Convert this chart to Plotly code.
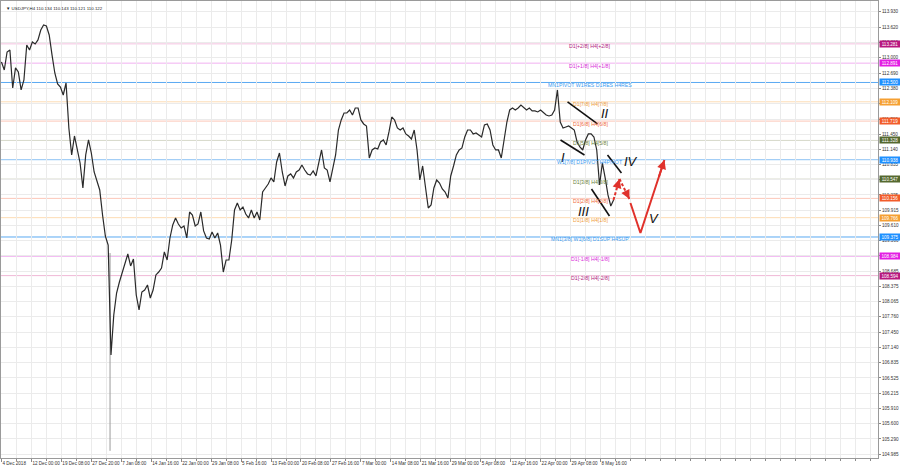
import plotly.graph_objects as go

# ---------------- data ----------------
symbol_title = "▼ USDJPY,H4 110.134 110.143 110.121 110.122"
bar_step = 3  # H4 bars between consecutive samples of the close series

close = [
    112.915, 112.753, 113.117, 113.158, 112.389, 112.794, 112.713, 112.349, 112.551, 113.259,
    113.158, 113.319, 113.279, 113.360, 113.562, 113.663, 113.643, 113.461, 113.057, 112.692,
    112.470, 112.409, 112.247, 112.490, 111.580, 111.034, 111.418, 111.175, 110.872, 110.366,
    111.034, 111.337, 111.074, 110.690, 110.528, 110.326, 109.820, 109.395, 109.213, 106.988,
    107.797, 108.242, 108.465, 108.667, 108.870, 109.031, 108.789, 108.930, 108.202, 107.899,
    108.263, 108.303, 108.404, 108.141, 108.303, 108.607, 108.667, 108.748, 109.072, 108.910,
    109.355, 109.618, 109.760, 109.638, 109.557, 109.598, 109.355, 109.881, 109.820, 109.598,
    109.638, 109.881, 109.497, 109.355, 109.335, 109.476, 109.355, 109.456, 109.213, 108.667,
    108.910, 108.910, 109.315, 109.921, 110.063, 109.921, 109.982, 109.840, 109.760, 109.921,
    109.760, 109.881, 109.719, 110.285, 110.366, 110.447, 110.569, 110.488, 110.892, 111.074,
    110.690, 110.407, 110.609, 110.650, 110.569, 110.690, 110.730, 110.832, 110.730, 110.650,
    110.629, 110.710, 110.609, 110.892, 111.135, 110.771, 110.730, 110.488, 110.791, 111.034,
    111.539, 111.742, 111.883, 111.883, 111.944, 111.843, 111.984, 111.984, 111.742, 111.661,
    111.620, 110.973, 111.135, 111.175, 111.155, 111.297, 111.337, 111.236, 111.499, 111.802,
    111.742, 111.580, 111.539, 111.580, 111.459, 111.418, 111.357, 111.539, 111.135, 110.528,
    110.811, 110.326, 109.962, 110.022, 110.366, 110.528, 110.467, 110.346, 110.285, 110.164,
    110.609, 110.811, 111.034, 111.135, 111.175, 111.398, 111.539, 111.539, 111.459, 111.479,
    111.438, 111.398, 111.641, 111.661, 111.539, 111.236, 111.135, 111.135, 110.973, 111.378,
    111.701, 111.944, 111.984, 111.944, 111.984, 112.045, 111.984, 111.944, 111.984, 111.924,
    111.924, 111.904, 111.944, 111.883, 111.843, 111.823, 111.843, 111.944, 112.349, 111.701,
    111.580, 111.600, 111.620, 111.580, 111.539, 111.297, 111.196, 111.135, 111.337, 111.459,
    111.459, 111.398, 111.135, 110.427, 110.872, 110.569, 110.225, 110.002, 110.124,
]

# flash-crash candle (3 Jan 2019): bar index, high and low of its wick
crash_bar = 116
crash_high = 109.05
crash_low = 105.05

date_labels = [
    "4 Dec 2018", "12 Dec 00:00", "19 Dec 08:00", "27 Dec 20:00", "7 Jan 08:00",
    "14 Jan 16:00", "22 Jan 00:00", "29 Jan 08:00", "5 Feb 16:00", "13 Feb 00:00",
    "20 Feb 08:00", "27 Feb 16:00", "7 Mar 00:00", "14 Mar 08:00", "21 Mar 16:00",
    "29 Mar 00:00", "5 Apr 08:00", "12 Apr 16:00", "22 Apr 00:00", "29 Apr 08:00",
    "8 May 16:00",
]
bars_per_label = 32

price_tick_labels = [
    "113.930", "113.620", "113.310", "113.000", "112.690", "112.380", "112.070", "111.760",
    "111.450", "111.140", "110.835", "110.530", "110.225", "109.915", "109.610", "109.300",
    "108.995", "108.685", "108.375", "108.065", "107.760", "107.450", "107.140", "106.835",
    "106.525", "106.215", "105.910", "105.600", "105.290", "104.985",
]

levels = [113.281, 112.891, 112.500, 112.109, 111.719, 111.328, 110.938,
          110.547, 110.156, 109.766, 109.375, 108.984, 108.594]
level_names = [
    "D1[+2/8] H4[+2/8]", "D1[+1/8] H4[+1/8]", "MN1PIVOT W1RES D1RES H4RES",
    "D1[7/8] H4[7/8]", "D1[6/8] H4[6/8]", "D1[5/8] H4[5/8]", "W1[7/8] D1PIVOT H4PIVOT",
    "D1[3/8] H4[3/8]", "D1[2/8] H4[2/8]", "D1[1/8] H4[1/8]", "MN1[3/8] W1[6/8] D1SUP H4SUP",
    "D1[-1/8] H4[-1/8]", "D1[-2/8] H4[-2/8]",
]
level_line_colors = ["#f4c2e0", "#f1b0f1", "#5aa9f2", "#fddcb4", "#fcc6b8", "#d6d9c9", "#8cc2f4",
                     "#d6d9c9", "#fcc6b8", "#fddcb4", "#5aa9f2", "#f1b0f1", "#f0b8d6"]
level_text_colors = ["#b01c80", "#d82ad8", "#3c9cf0", "#f0a040", "#f06a3a", "#6b7f3a", "#3c9cf0",
                     "#6b7f3a", "#f06a3a", "#f0a040", "#3c9cf0", "#d82ad8", "#b01c80"]
level_tag_colors = ["#b8197f", "#e31ee3", "#1e90ff", "#f5a033", "#f25c2a", "#55692f", "#1e90ff",
                    "#55692f", "#f25c2a", "#f5a033", "#1e90ff", "#e31ee3", "#b8197f"]
level_label_bar = 629

# hand-drawn wave analysis (bar index, price)
channel_bar_start = [604.8, 597.3, 647.5, 630.4]
channel_price_start = [112.106, 111.337, 111.034, 110.346]
channel_bar_end = [636.8, 622.9, 662.4, 649.6]
channel_price_end = [111.661, 111.034, 110.670, 109.800]

wave_names = ["I", "II", "III", "IV", "V"]
wave_bar = [599.5, 644.3, 621.9, 673.0, 697.6]
wave_price = [110.99, 111.88, 109.89, 110.91, 109.74]

dashed_path_bar = [653.9, 660.3, 670.9]
dashed_path_price = [110.124, 110.548, 110.144]
solid_path_bar = [672.0, 682.7, 708.3]
solid_path_price = [110.063, 109.456, 110.933]

y_min, y_max = 104.905, 114.148
x_min, x_max = -0.5, 936.5

# ---------------- figure ----------------
fig = go.Figure()

for lv, col in zip(levels, level_line_colors):
    fig.add_hline(y=lv, line=dict(color=col, width=1), layer="below")

bars = [i * bar_step for i in range(len(close))]
fig.add_trace(go.Scatter(x=[crash_bar, crash_bar], y=[crash_high, crash_low], mode="lines",
                         line=dict(color="#9a9a9a", width=1), hoverinfo="skip"))
fig.add_trace(go.Scatter(x=bars, y=close, mode="lines",
                         line=dict(color="#2a2a2a", width=1.2), hoverinfo="skip"))

for b0, p0, b1, p1 in zip(channel_bar_start, channel_price_start, channel_bar_end, channel_price_end):
    fig.add_trace(go.Scatter(x=[b0, b1], y=[p0, p1], mode="lines",
                             line=dict(color="#111111", width=1.6), hoverinfo="skip"))

red = "#e0312b"
fig.add_trace(go.Scatter(x=dashed_path_bar[:2], y=dashed_path_price[:2], mode="lines",
                         line=dict(color=red, width=2, dash="3px,2px"), hoverinfo="skip"))
fig.add_trace(go.Scatter(x=dashed_path_bar[1:], y=dashed_path_price[1:], mode="lines",
                         line=dict(color=red, width=2, dash="3px,2px"), hoverinfo="skip"))
fig.add_trace(go.Scatter(x=solid_path_bar, y=solid_path_price, mode="lines",
                         line=dict(color=red, width=2), hoverinfo="skip"))

def arrow_head(bx, py, i_from, i_to):
    fig.add_annotation(x=bx[i_to], y=py[i_to],
                       ax=bx[i_from] + 0.75 * (bx[i_to] - bx[i_from]),
                       ay=py[i_from] + 0.75 * (py[i_to] - py[i_from]),
                       xref="x", yref="y", axref="x", ayref="y", text="",
                       showarrow=True, arrowhead=2, arrowsize=0.9, arrowwidth=2, arrowcolor=red)

arrow_head(dashed_path_bar, dashed_path_price, 0, 1)
arrow_head(dashed_path_bar, dashed_path_price, 1, 2)
arrow_head(solid_path_bar, solid_path_price, 1, 2)

for name, bx, py in zip(wave_names, wave_bar, wave_price):
    fig.add_annotation(x=bx, y=py, text=f"<i>{name}</i>", showarrow=False,
                       font=dict(family="Liberation Sans", size=13, color="#111111"))

for lv, name, tcol, tagcol in zip(levels, level_names, level_text_colors, level_tag_colors):
    fig.add_annotation(x=level_label_bar, y=lv, text=name, showarrow=False, yanchor="middle",
                       yshift=-2.5, font=dict(family="Liberation Sans", size=5.2, color=tcol))
    fig.add_annotation(xref="paper", x=1, y=lv, xanchor="left", xshift=1, text=f"{lv:.3f}",
                       showarrow=False, bgcolor=tagcol, width=20, height=6, borderpad=0,
                       font=dict(family="Liberation Sans", size=4.6, color="white"))

fig.add_annotation(xref="paper", yref="paper", x=0, y=1, xanchor="left", yanchor="top",
                   xshift=3, yshift=-3, text=symbol_title, showarrow=False,
                   font=dict(family="Liberation Sans", size=4.4, color="#222222"))

fig.update_layout(
    width=900, height=470,
    margin=dict(l=1, r=22, t=1, b=12, autoexpand=False),
    paper_bgcolor="white", plot_bgcolor="white",
    showlegend=False,
    xaxis=dict(
        range=[x_min, x_max],
        tickvals=[k * bars_per_label for k in range(len(date_labels))],
        ticktext=date_labels,
        tickangle=0,
        ticklabelposition="outside right",
        ticks="outside", ticklen=3, tickcolor="#8a8a8a",
        tickfont=dict(family="Liberation Sans", size=4.6, color="#333333"),
        showgrid=True, gridcolor="#ebebeb", gridwidth=1,
        minor=dict(dtick=bars_per_label / 2, tick0=0, showgrid=True, gridcolor="#ebebeb",
                   ticks="outside", ticklen=2, tickcolor="#8a8a8a"),
        showline=True, linecolor="#9a9a9a", mirror=True, zeroline=False,
        automargin=False, fixedrange=True,
    ),
    yaxis=dict(
        range=[y_min, y_max], side="right",
        tickvals=[float(t) for t in price_tick_labels],
        ticktext=price_tick_labels,
        ticks="outside", ticklen=2, tickcolor="#8a8a8a",
        tickfont=dict(family="Liberation Sans", size=4.6, color="#333333"),
        showgrid=True, gridcolor="#ebebeb", gridwidth=1,
        showline=True, linecolor="#9a9a9a", mirror=True, zeroline=False,
        automargin=False, fixedrange=True,
    ),
)

fig.write_html("out.html", config={"displayModeBar": False},
               post_script="document.body.style.margin='0';document.body.style.overflow='hidden';")
